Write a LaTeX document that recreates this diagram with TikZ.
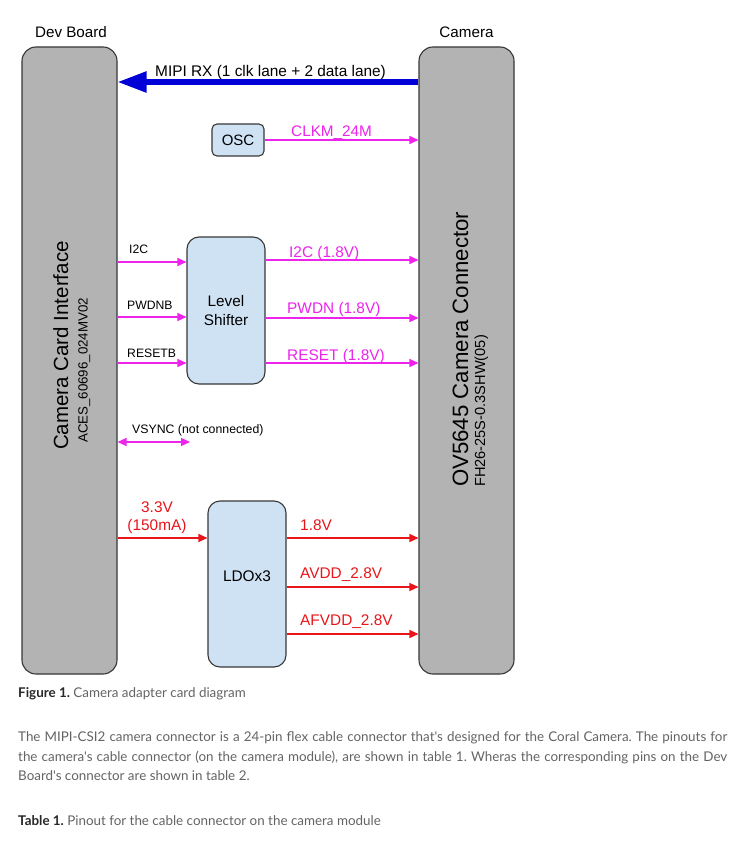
\documentclass[tikz,border=0pt]{standalone}
\usepackage{fontspec}
\setmainfont{Liberation Sans}
\newfontfamily\bodyfont{Lato}
\usetikzlibrary{arrows.meta}
\definecolor{boxgray}{RGB}{179,179,179}
\definecolor{edgec}{RGB}{55,55,55}
\definecolor{lblue}{RGB}{207,226,243}
\definecolor{sigmag}{RGB}{236,36,236}
\definecolor{pwrred}{RGB}{232,22,26}
\definecolor{mipiblue}{RGB}{0,0,215}
\definecolor{bodygray}{RGB}{100,100,100}
\definecolor{capdark}{RGB}{40,40,40}
\newcommand\fz[2]{\fontsize{#1}{#2}\selectfont}
\begin{document}
\begin{tikzpicture}[x=1pt,y=-1pt,
  bigbox/.style={draw=edgec, fill=boxgray, rounded corners=14pt, line width=1.1pt,
                 minimum width=95pt, minimum height=627pt, inner sep=0pt},
  bluebox/.style={draw=edgec, fill=lblue, line width=1.1pt, inner sep=0pt},
  sig/.style={draw=sigmag, line width=1.2pt, -{Triangle[length=9pt,width=8pt]}},
  sigboth/.style={draw=sigmag, line width=1.2pt, {Triangle[length=9pt,width=8pt]}-{Triangle[length=9pt,width=8pt]}},
  pwr/.style={draw=pwrred, line width=1.2pt, -{Triangle[length=9pt,width=8pt]}},
  mipi/.style={draw=mipiblue, line width=5.5pt, -{Triangle[length=29pt,width=20pt]}},
  lbl/.style={inner sep=0pt, anchor=base west},
  rot/.style={inner sep=0pt, anchor=base west, rotate=90},
  body/.style={inner sep=0pt, anchor=base west, text=bodygray, font=\bodyfont\fz{13.4}{16}\frenchspacing}
]
\useasboundingbox (0,0) rectangle (737,842);
\fill[white] (0,0) rectangle (737,842);

% headers
\node[inner sep=0pt, anchor=base, font=\fz{15.2}{18}] (hdev) at (71,38) {Dev Board};
\node[inner sep=0pt, anchor=base, font=\fz{15.2}{18}] (hcam) at (466.5,38) {Camera};

% main boxes
\node[bigbox] (dev) at (69.5,360.5) {};
\node[bigbox] (cam) at (466.5,360.5) {};

\node[rot, font=\fz{20.5}{24}] (devt1) at (68,450) {Camera Card Interface};
\node[rot, font=\fz{13.3}{16}] (devt2) at (87.5,443) {ACES\_60696\_024MV02};
\node[rot, font=\fz{22.2}{26}] (camt1) at (468,487) {OV5645 Camera Connector};
\node[rot, font=\fz{14.6}{17}] (camt2) at (485,487) {FH26-25S-0.3SHW(05)};

% inner boxes
\node[bluebox, rounded corners=5pt, minimum width=52pt, minimum height=32pt, font=\fz{15}{18}] (osc) at (238,140) {OSC};
\node[bluebox, rounded corners=12pt, minimum width=78pt, minimum height=147pt, align=center, font=\fz{15.3}{19}] (ls) at (226,310.5) {Level\\Shifter};
\node[bluebox, rounded corners=12pt, minimum width=78pt, minimum height=166pt] (ldo) at (247,584) {};
\node[inner sep=0pt, anchor=base, font=\fz{15.4}{18}] (ldot) at (247,581) {LDOx3};

% y levels
\coordinate (ymipi) at (0,82);
\coordinate (yi2c) at (0,262);
\coordinate (yi2co) at (0,260);
\coordinate (ypwd) at (0,317);
\coordinate (ypwdo) at (0,318);
\coordinate (yrst) at (0,363);
\coordinate (yvs) at (0,442);
\coordinate (vsend) at (190,442);
\coordinate (y18) at (0,538);
\coordinate (yav) at (0,587);
\coordinate (yaf) at (0,634);

% MIPI
\draw[mipi] (cam.west |- ymipi) -- (dev.east |- ymipi);
\node[lbl, font=\fz{15.4}{18}] (mipit) at (155,77) {MIPI RX (1 clk lane + 2 data lane)};

% clock
\draw[sig] (osc.east) -- (cam.west |- osc.east);
\node[lbl, text=sigmag, font=\fz{15.3}{18}] (clkt) at (291,137) {CLKM\_24M};

% level shifter inputs
\draw[sig] (dev.east |- yi2c) -- (ls.west |- yi2c);
\draw[sig] (dev.east |- ypwd) -- (ls.west |- ypwd);
\draw[sig] (dev.east |- yrst) -- (ls.west |- yrst);
\node[lbl, font=\fz{12.2}{15}] (i2cin) at (129,253) {I2C};
\node[lbl, font=\fz{12.2}{15}] (pwdin) at (127,309) {PWDNB};
\node[lbl, font=\fz{12.2}{15}] (rstin) at (127,357) {RESETB};

% level shifter outputs
\draw[sig] (ls.east |- yi2co) -- (cam.west |- yi2co);
\draw[sig] (ls.east |- ypwdo) -- (cam.west |- ypwdo);
\draw[sig] (ls.east |- yrst) -- (cam.west |- yrst);
\node[lbl, text=sigmag, font=\fz{15.4}{18}] (i2cout) at (289,257) {I2C (1.8V)};
\node[lbl, text=sigmag, font=\fz{15.4}{18}] (pwdout) at (287,313) {PWDN (1.8V)};
\node[lbl, text=sigmag, font=\fz{15.4}{18}] (rstout) at (287,360) {RESET (1.8V)};

% VSYNC
\draw[sigboth] (dev.east |- yvs) -- (vsend);
\node[lbl, font=\fz{12.3}{15}] (vst) at (132,433) {VSYNC (not connected)};

% power
\draw[pwr] (dev.east |- y18) -- (ldo.west |- y18);
\node[inner sep=0pt, anchor=base, text=pwrred, font=\fz{15.4}{18}] (v33) at (157,512) {3.3V};
\node[inner sep=0pt, anchor=base, text=pwrred, font=\fz{15.4}{18}] (v33b) at (157,530) {(150mA)};
\draw[pwr] (ldo.east |- y18) -- (cam.west |- y18);
\draw[pwr] (ldo.east |- yav) -- (cam.west |- yav);
\draw[pwr] (ldo.east |- yaf) -- (cam.west |- yaf);
\node[lbl, text=pwrred, font=\fz{15.4}{18}] (o18) at (300,530) {1.8V};
\node[lbl, text=pwrred, font=\fz{15.4}{18}] (oav) at (300,578) {AVDD\_2.8V};
\node[lbl, text=pwrred, font=\fz{15.4}{18}] (oaf) at (300,625) {AFVDD\_2.8V};

% caption and body text
\node[body] (cap) at (18,697) {\textcolor{capdark}{\bfseries Figure 1.} Camera adapter card diagram};
\node[body] (p1) at (18,741) {\hbox to 709pt{\spaceskip=0.25em plus 1fil minus 0.12em The MIPI-CSI2 camera connector is a 24-pin flex cable connector that's designed for the Coral Camera. The pinouts for}};
\node[body] (p2) at (18,761) {\hbox to 709pt{\spaceskip=0.25em plus 1fil minus 0.12em the camera's cable connector (on the camera module), are shown in table 1. Wheras the corresponding pins on the Dev}};
\node[body] (p3) at (18,780) {Board's connector are shown in table 2.};
\node[body] (tab) at (18,825) {\textcolor{capdark}{\bfseries Table 1.} Pinout for the cable connector on the camera module};
\end{tikzpicture}
\end{document}
